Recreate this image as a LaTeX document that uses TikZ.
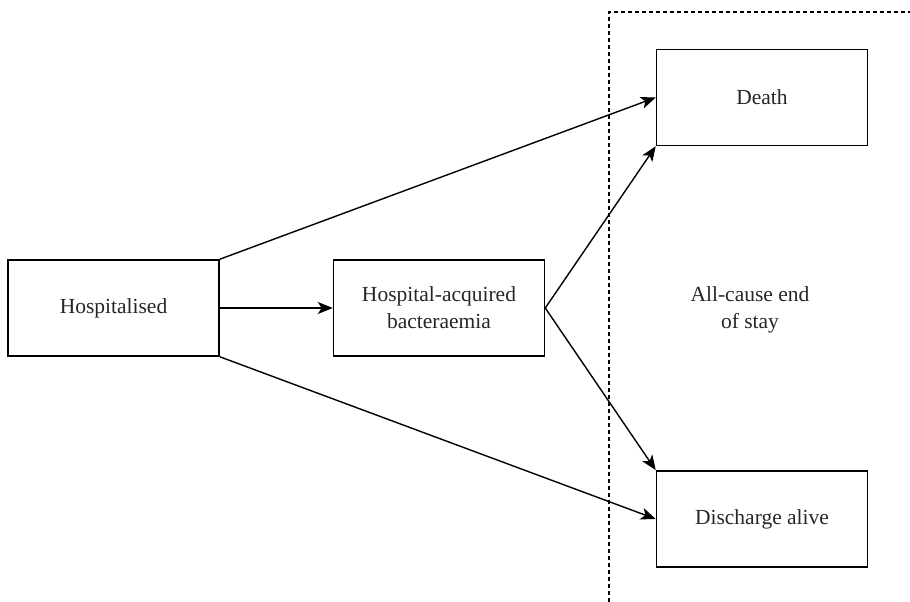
\documentclass[tikz,border=0pt]{standalone}
\usepackage{fontspec}
\setmainfont{Liberation Serif}
\usetikzlibrary{arrows.meta}
\begin{document}
\begin{tikzpicture}[x=1pt,y=1pt,
  box/.style={draw, line width=1.5pt, minimum width=211pt, minimum height=96pt, inner sep=0pt, align=center, font=\fontsize{21.5}{27}\selectfont, text=black!85},
  conn/.style={line width=1.4pt, -{Stealth[length=15pt,width=12pt,inset=4pt]}},
  region/.style={line width=1.2pt, dash pattern=on 4pt off 3pt}]
\useasboundingbox (0,0) rectangle (910,602);
\node[box] (hosp) at (113.5,294) {Hospitalised};
\node[box] (bact) at (439,294) {Hospital-acquired\\bacteraemia};
\node[box] (death) at (762,504.5) {Death};
\node[box] (disch) at (762,83) {Discharge alive};
\node[align=center, font=\fontsize{21.5}{27}\selectfont, text=black!85] (endstay) at (750,292) {All-cause end\\of stay};
\coordinate (rtr) at (912,590);
\coordinate (rtl) at (609,590);
\coordinate (rbl) at (609,-2);
\draw[region] (rtr) -- (rtl) -- (rbl);
\draw[conn] (hosp.north east) -- (death.west);
\draw[conn] (hosp.east) -- (bact.west);
\draw[conn] (hosp.south east) -- (disch.west);
\draw[conn] (bact.east) -- (death.south west);
\draw[conn] (bact.east) -- (disch.north west);
\end{tikzpicture}
\end{document}
